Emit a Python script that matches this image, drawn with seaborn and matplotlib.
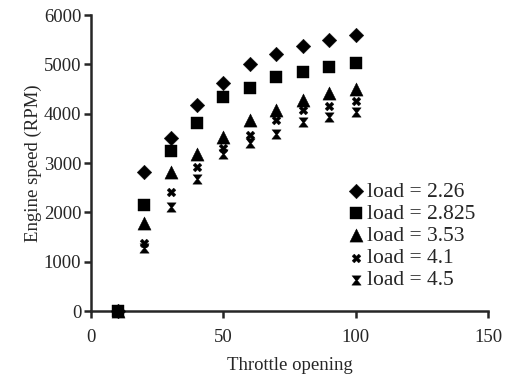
import numpy as np
import pandas as pd
import matplotlib
matplotlib.use("Agg")
import matplotlib.pyplot as plt
import seaborn as sns

throttle = [10, 20, 30, 40, 50, 60, 70, 80, 90, 100]
rpm_226 = [0, 2820, 3520, 4170, 4620, 5020, 5220, 5370, 5490, 5590]
rpm_2825 = [0, 2160, 3250, 3810, 4340, 4530, 4750, 4850, 4940, 5030]
rpm_353 = [0, 1790, 2820, 3190, 3530, 3880, 4080, 4290, 4420, 4510]
rpm_41 = [0, 1390, 2420, 2920, 3300, 3570, 3870, 4070, 4150, 4270]
rpm_45 = [0, 1280, 2110, 2670, 3190, 3400, 3600, 3840, 3940, 4040]
labels = ["load = 2.26", "load = 2.825", "load = 3.53", "load = 4.1", "load = 4.5"]

rows = []
for lab, vals in zip(labels, [rpm_226, rpm_2825, rpm_353, rpm_41, rpm_45]):
    for t, v in zip(throttle, vals):
        rows.append({"Throttle opening": t, "Engine speed (RPM)": v, "series": lab})
df = pd.DataFrame(rows)

sns.set_style("ticks")
plt.rcParams["font.family"] = ["Liberation Serif", "DejaVu Serif"]

# hourglass-like cross marker
hourglass = [(-1, 1), (1, 1), (0.2, 0), (1, -1), (-1, -1), (-0.2, 0)]
markers = {labels[0]: "D", labels[1]: "s", labels[2]: "^", labels[3]: "X", labels[4]: hourglass}
sizes = {labels[0]: 55, labels[1]: 80, labels[2]: 90, labels[3]: 40, labels[4]: 45}

fig = plt.figure(figsize=(5.09, 3.79), dpi=100)
ax = fig.add_axes([0.179, 0.179, 0.78, 0.781])

for lab in labels:
    sub = df[df["series"] == lab]
    sns.scatterplot(data=sub, x="Throttle opening", y="Engine speed (RPM)",
                    marker=markers[lab], s=sizes[lab], color="black",
                    edgecolor="black", linewidth=0.3, label=lab, ax=ax,
                    clip_on=False, zorder=3)

ax.set_xlim(0, 150)
ax.set_ylim(0, 6000)
ax.set_xticks([0, 50, 100, 150])
ax.set_yticks(range(0, 6001, 1000))
for s in ["top", "right"]:
    ax.spines[s].set_visible(False)
for s in ["left", "bottom"]:
    ax.spines[s].set_linewidth(1.8)
ax.tick_params(direction="out", length=5, width=1.8, labelsize=13.5)
ax.tick_params(axis="x", pad=8)
ax.tick_params(axis="y", pad=2)
ax.set_xlabel("Throttle opening", fontsize=13.5, labelpad=8)
ax.set_ylabel("Engine speed (RPM)", fontsize=13.5, labelpad=1)

leg = ax.legend(loc="lower left", bbox_to_anchor=(0.657, 0.07), frameon=False,
                fontsize=15.5, handletextpad=0.3, labelspacing=0.1,
                borderpad=0, borderaxespad=0, handlelength=0.4)

fig.savefig("out.png", dpi=100)
